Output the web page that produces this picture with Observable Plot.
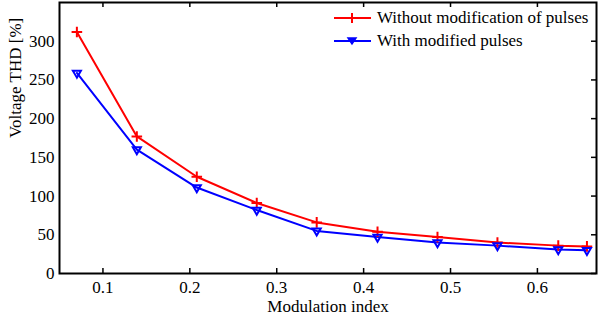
<!DOCTYPE html>
<html>
<head>
<meta charset="utf-8">
<script src="https://cdn.jsdelivr.net/npm/d3@7"></script>
<script src="https://cdn.jsdelivr.net/npm/@observablehq/plot@0.6"></script>
<style>
  html, body { margin: 0; padding: 0; background: #fff; }
  #wrap { position: relative; width: 598px; height: 321px; font-family: "Liberation Serif", "Times New Roman", serif; }
  #legend { position: absolute; left: 334px; top: 6px; font-size: 17px; line-height: 23px; color: #000; }
  #legend .row { display: flex; align-items: center; height: 23px; }
  #legend svg { margin-right: 6px; }
</style>
</head>
<body>
<div id="wrap"></div>
<script>
const modIndex = [0.07, 0.139, 0.208, 0.277, 0.346, 0.416, 0.485, 0.554, 0.624, 0.657];
const thdWithout = [312, 177, 125, 91, 66, 54, 47, 40, 36, 35];
const thdModified = [259, 160, 111, 82, 55, 47, 40, 36, 31, 30];
const seriesNames = ["Without modification of pulses", "With modified pulses"];
const seriesColors = ["#ff0000", "#0000ff"];
const xTicks = [0.1, 0.2, 0.3, 0.4, 0.5, 0.6];
const yTicks = [0, 50, 100, 150, 200, 250, 300];

const red = modIndex.map((m, i) => ({x: m, y: thdWithout[i]}));
const blue = modIndex.map((m, i) => ({x: m, y: thdModified[i]}));

const xDom = [0.05, 0.668];
const yDom = [0, 350];
const tickX = 5 * (yDom[1] - yDom[0]) / 271; // inward tick length in data units (5px)
const tickY = 5 * (xDom[1] - xDom[0]) / 537;

const chart = Plot.plot({
  width: 598,
  height: 321,
  marginLeft: 59,
  marginRight: 2,
  marginTop: 2,
  marginBottom: 48,
  style: {fontFamily: "Liberation Serif, Times New Roman, serif", fontSize: "17px", color: "#000", background: "#fff"},
  x: {domain: xDom},
  y: {domain: yDom},
  marks: [
    Plot.axisX(xTicks, {tickSize: 0, tickPadding: 7, tickFormat: d3.format(".1f"), label: null, fontSize: 17}),
    Plot.axisY(yTicks, {tickSize: 0, tickPadding: 5, label: null, fontSize: 17}),
    Plot.ruleX(xTicks, {x: d => d, y1: yDom[0], y2: yDom[0] + tickX, stroke: "#000", strokeWidth: 1.5}),
    Plot.ruleX(xTicks, {x: d => d, y1: yDom[1] - tickX, y2: yDom[1], stroke: "#000", strokeWidth: 1.5}),
    Plot.ruleY(yTicks, {y: d => d, x1: xDom[1] - tickY, x2: xDom[1], stroke: "#000", strokeWidth: 1.5}),
    Plot.line(red, {x: "x", y: "y", stroke: seriesColors[0], strokeWidth: 2}),
    Plot.line(blue, {x: "x", y: "y", stroke: seriesColors[1], strokeWidth: 2}),
    Plot.dot(red, {x: "x", y: "y", symbol: "plus", r: 3.5, stroke: seriesColors[0], strokeWidth: 2}),
    Plot.dot(blue, {x: "x", y: "y", symbol: "triangle", rotate: 180, r: 3, stroke: seriesColors[1], fill: "none", strokeWidth: 2}),
    Plot.frame({stroke: "#000", strokeWidth: 2}),
    Plot.text(["Modulation index"], {text: d => d, frameAnchor: "bottom", dy: 33, lineAnchor: "middle", fontSize: 17}),
    Plot.text(["Voltage THD [%]"], {text: d => d, frameAnchor: "left", dx: -44, rotate: -90, lineAnchor: "middle", fontSize: 17})
  ]
});
const wrap = document.getElementById("wrap");
wrap.appendChild(chart);

// legend
const legend = document.createElement("div");
legend.id = "legend";
const sym = [
  '<line x1="18" y1="1" x2="18" y2="11" stroke="#ff0000" stroke-width="2"/>',
  '<path d="M14,3 L22,3 L18,9 Z" fill="#0000ff" stroke="#0000ff" stroke-width="1.5"/>'
];
seriesNames.forEach((name, i) => {
  const row = document.createElement("div");
  row.className = "row";
  row.innerHTML = `<svg width="37" height="12"><line x1="0" y1="6" x2="37" y2="6" stroke="${seriesColors[i]}" stroke-width="2"/>${sym[i]}</svg><span>${name}</span>`;
  legend.appendChild(row);
});
wrap.appendChild(legend);
</script>
</body>
</html>
